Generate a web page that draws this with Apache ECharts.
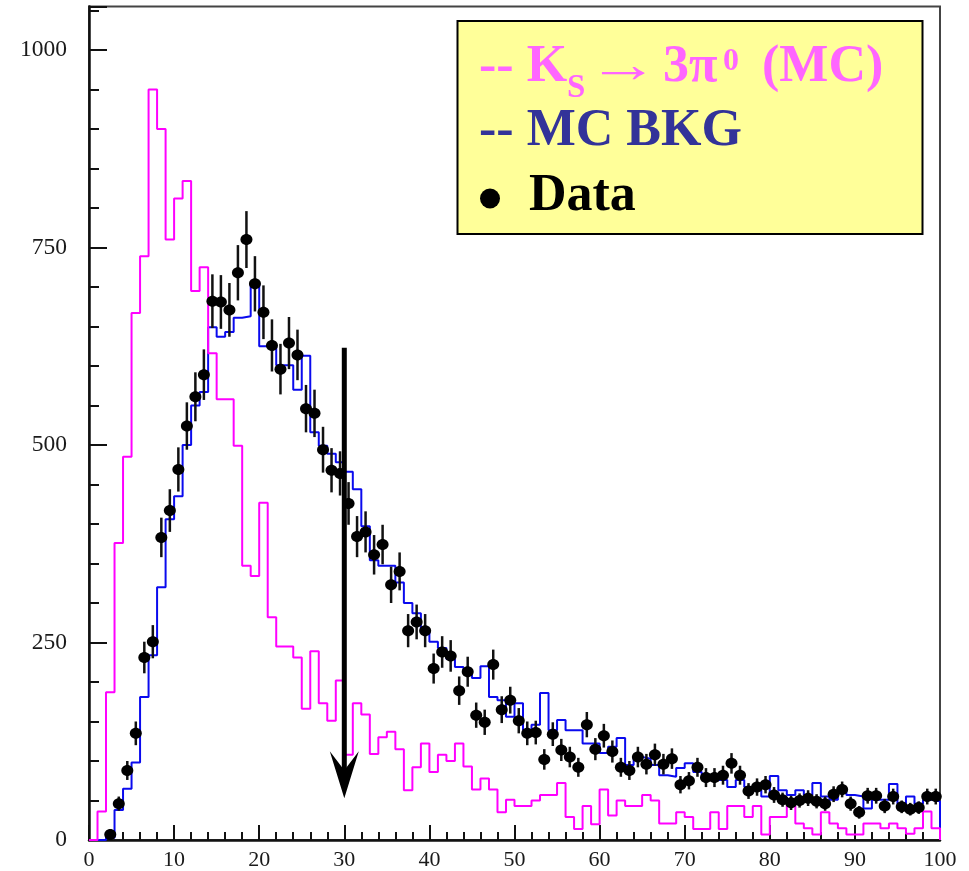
<!DOCTYPE html>
<html><head><meta charset="utf-8">
<script src="https://cdn.jsdelivr.net/npm/echarts@6/dist/echarts.min.js"></script>
<style>html,body{margin:0;padding:0;background:#fff}#c{width:969px;height:871px}</style>
</head><body><div id="c"></div>
<script>
// Histogram bins: width 1, from 0 to 100 (bin i covers [i, i+1])
const binCount = 100;
const xTickLabels = [0, 10, 20, 30, 40, 50, 60, 70, 80, 90, 100];
const yTickLabels = [0, 250, 500, 750, 1000];

// K_S -> 3pi0 (MC), magenta
const mcSignal = [
  0, 36, 187, 376, 485, 667, 739, 950, 900, 760,
  812, 834, 695, 725, 616, 558, 558, 499, 347, 334,
  427, 282, 245, 245, 231, 166, 239, 173, 151, 202,
  108, 173, 159, 109, 130, 137, 115, 63, 92, 122,
  86, 108, 100, 122, 93, 64, 78, 64, 35, 51,
  43, 43, 50, 57, 57, 72, 29, 14, 43, 20,
  64, 31, 50, 43, 43, 57, 50, 21, 21, 35,
  29, 14, 14, 35, 14, 43, 43, 29, 43, 7,
  29, 29, 43, 21, 15, 7, 35, 21, 15, 7,
  7, 21, 21, 15, 21, 15, 8, 15, 36, 15
];

// MC BKG, blue
const mcBkg = [
  0, 0, 3, 38, 65, 98, 181, 234, 320, 406,
  435, 500, 550, 567, 649, 637, 643, 661, 663, 705,
  625, 625, 601, 601, 570, 613, 516, 499, 489, 478,
  466, 444, 397, 354, 347, 347, 326, 300, 287, 264,
  251, 243, 229, 219, 214, 205, 220, 181, 177, 156,
  173, 139, 146, 186, 139, 152, 139, 139, 122, 122,
  110, 118, 129, 95, 105, 103, 95, 82, 80, 91,
  97, 86, 82, 80, 76, 67, 76, 67, 63, 55,
  81, 63, 57, 63, 57, 72, 55, 51, 63, 57,
  55, 40, 51, 51, 71, 46, 55, 46, 51, 49
];

// Data points (bins 2..99)
const dataFirstBin = 2;
const dataCounts = [
  7, 46, 88, 135, 231, 251, 383, 417,
  469, 524, 561, 589, 682, 681, 671, 718, 760, 704,
  668, 626, 596, 629, 614, 546, 540, 494, 468, 464,
  426, 384, 390, 361, 374, 323, 340, 265, 276, 265,
  217, 238, 233, 189, 213, 158, 149, 222, 165, 177,
  151, 135, 136, 102, 134, 114, 105, 92, 146, 115,
  132, 112, 92, 88, 105, 96, 108, 96, 103, 70,
  75, 92, 79, 79, 82, 97, 82, 62, 67, 70,
  57, 51, 47, 50, 53, 49, 46, 58, 64, 46,
  35, 56, 56, 43, 55, 42, 39, 41, 55, 55
];
const dataErrors = [
  3, 9, 12, 15, 20, 21, 25, 27,
  28, 30, 31, 32, 34, 34, 34, 35, 36, 35,
  34, 33, 32, 33, 32, 30, 30, 29, 28, 28,
  27, 26, 26, 25, 25, 23, 24, 21, 22, 21,
  19, 20, 20, 18, 19, 16, 16, 19, 17, 17,
  16, 15, 15, 13, 15, 14, 13, 12, 16, 14,
  15, 14, 12, 12, 13, 13, 14, 13, 13, 11,
  11, 12, 12, 12, 12, 13, 12, 10, 11, 11,
  10, 9, 9, 9, 10, 9, 9, 10, 10, 9,
  8, 10, 10, 9, 10, 8, 8, 8, 10, 10
];

// Cut arrow
const cutX = 30;
const arrowTopY = 623;
const arrowTipY = 53;

function stepData(arr) {
  const out = [[0, 0]];
  arr.forEach((v, i) => out.push([i, v]));
  out.push([arr.length, arr[arr.length - 1]]);
  out.push([arr.length, 0]);
  return out;
}
const pointData = dataCounts.map((v, i) => [dataFirstBin + i + 0.5, v, dataErrors[i]]);

const serif = '"Liberation Serif", "Times New Roman", serif';
const chart = echarts.init(document.getElementById('c'), null, {renderer: 'canvas'});
const option = {
  animation: false,
  backgroundColor: '#ffffff',
  grid: {left: 89, right: 29, top: 6.5, bottom: 31, show: true, borderColor: '#444', borderWidth: 2, backgroundColor: 'transparent'},
  xAxis: {
    type: 'value', min: 0, max: 100, interval: 10,
    axisLine: {show: true, onZero: false, lineStyle: {color: '#111', width: 2.5}},
    axisTick: {show: true, inside: true, length: 15, lineStyle: {color: '#111', width: 2}},
    minorTick: {show: true, splitNumber: 5, length: 8, lineStyle: {color: '#111', width: 2}},
    splitLine: {show: false}, minorSplitLine: {show: false},
    axisLabel: {fontFamily: serif, fontSize: 22, color: '#1a1a1a', margin: 9,
      formatter: v => (xTickLabels.indexOf(v) >= 0 ? String(v) : '')}
  },
  yAxis: [{
    type: 'value', min: 0, max: 1055, interval: 250, position: 'left',
    axisLine: {show: true, onZero: false, lineStyle: {color: '#111', width: 2.5}},
    axisTick: {show: true, inside: true, length: 18, lineStyle: {color: '#111', width: 2}},
    splitLine: {show: false},
    axisLabel: {fontFamily: serif, fontSize: 23.5, color: '#1a1a1a', margin: 22,
      formatter: v => (yTickLabels.indexOf(v) >= 0 ? String(v) : '')}
  }, {
    type: 'value', min: 0, max: 1055, interval: 50, position: 'left', offset: 0,
    axisLine: {show: false},
    axisTick: {show: true, inside: true, length: 10, lineStyle: {color: '#111', width: 2}},
    splitLine: {show: false},
    axisLabel: {show: false}
  }],
  series: [
    {type: 'line', name: 'MC BKG', step: 'end', data: stepData(mcBkg), showSymbol: false, z: 2,
     lineStyle: {color: '#0a0aee', width: 2}},
    {type: 'line', name: 'KS', step: 'end', data: stepData(mcSignal), showSymbol: false, z: 3,
     lineStyle: {color: '#ff00ff', width: 2}},
    {type: 'custom', name: 'Data', z: 4, data: pointData,
     renderItem: function (params, api) {
       const x = api.value(0), y = api.value(1), e = api.value(2);
       const c = api.coord([x, y]);
       const t = api.coord([x, y + e]);
       const b = api.coord([x, y - e]);
       return {type: 'group', children: [
         {type: 'line', shape: {x1: c[0], y1: t[1], x2: c[0], y2: b[1]}, style: {stroke: '#111', lineWidth: 2.5}},
         {type: 'ellipse', shape: {cx: c[0], cy: c[1], rx: 6, ry: 5.5}, style: {fill: '#000'}}
       ]};
     }},
    {type: 'custom', name: 'cut', z: 6, data: [[cutX, arrowTopY, arrowTipY]],
     renderItem: function (params, api) {
       const top = api.coord([api.value(0), api.value(1)]);
       const tip = api.coord([api.value(0), api.value(2)]);
       const x = tip[0];
       return {type: 'group', children: [
         {type: 'rect', shape: {x: x - 2.5, y: top[1], width: 5, height: tip[1] - 25 - top[1]}, style: {fill: '#000'}},
         {type: 'polygon', shape: {points: [[x, tip[1]], [x + 14.5, tip[1] - 47], [x, tip[1] - 28], [x - 14.5, tip[1] - 47]]}, style: {fill: '#000'}}
       ]};
     }}
  ],
  graphic: [
    {type: 'rect', z: 10, shape: {x: 457.5, y: 21, width: 465, height: 213}, style: {fill: '#ffff99', stroke: '#000', lineWidth: 2}},
    {type: 'text', z: 11, x: 479, y: 68, style: {text: '-- K', fill: '#ff66ff', font: 'bold 52px ' + serif, align: 'left', verticalAlign: 'middle'}},
    {type: 'text', z: 11, x: 567, y: 88, style: {text: 'S', fill: '#ff66ff', font: 'bold 33px ' + serif, align: 'left', verticalAlign: 'middle'}},
    {type: 'text', z: 11, x: 587, y: 68, scaleX: 1.38, style: {text: '\u2192', fill: '#ff66ff', font: '52px ' + serif, align: 'left', verticalAlign: 'middle'}},
    {type: 'text', z: 11, x: 663, y: 68, style: {text: '3\u03c0', fill: '#ff66ff', font: 'bold 52px ' + serif, align: 'left', verticalAlign: 'middle'}},
    {type: 'text', z: 11, x: 723, y: 62, style: {text: '0', fill: '#ff66ff', font: 'bold 32px ' + serif, align: 'left', verticalAlign: 'middle'}},
    {type: 'text', z: 11, x: 762, y: 68, style: {text: '(MC)', fill: '#ff66ff', font: 'bold 52px ' + serif, align: 'left', verticalAlign: 'middle'}},
    {type: 'text', z: 11, x: 479, y: 132, style: {text: '-- MC BKG', fill: '#333399', font: 'bold 52px ' + serif, align: 'left', verticalAlign: 'middle'}},
    {type: 'circle', z: 11, shape: {cx: 490, cy: 198.5, r: 10}, style: {fill: '#000'}},
    {type: 'text', z: 11, x: 529, y: 197, style: {text: 'Data', fill: '#000', font: 'bold 52px ' + serif, align: 'left', verticalAlign: 'middle'}}
  ]
};
chart.setOption(option);
</script>
</body></html>
